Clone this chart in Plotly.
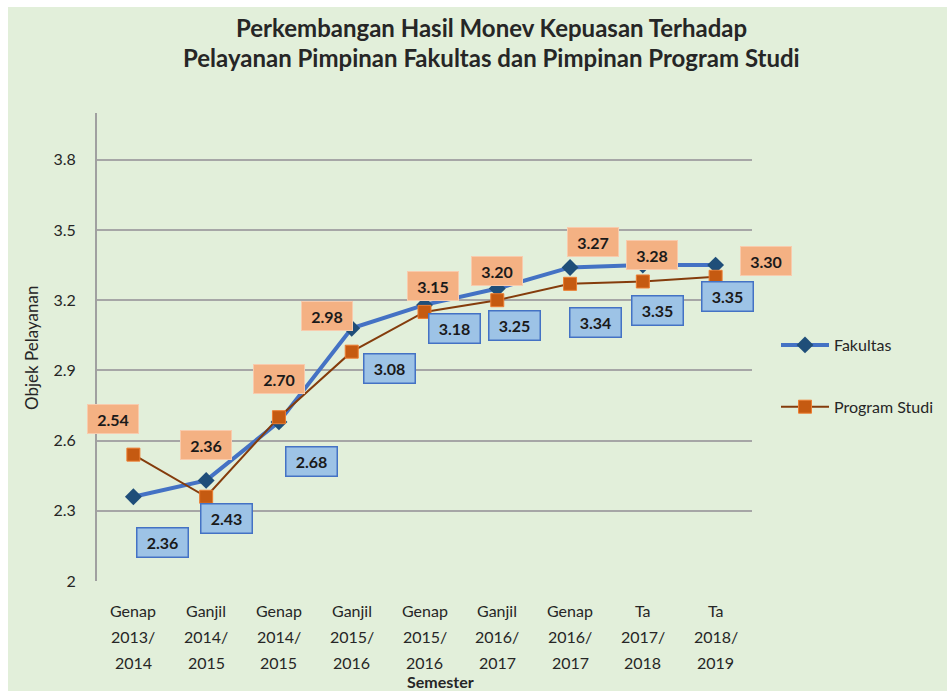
import plotly.graph_objects as go

# ---- data ----
categories = ["Genap<br>2013/<br>2014", "Ganjil<br>2014/<br>2015", "Genap<br>2014/<br>2015",
              "Ganjil<br>2015/<br>2016", "Genap<br>2015/<br>2016", "Ganjil<br>2016/<br>2017",
              "Genap<br>2016/<br>2017", "Ta<br>2017/<br>2018", "Ta<br>2018/<br>2019"]
fakultas = [2.36, 2.43, 2.68, 3.08, 3.18, 3.25, 3.34, 3.35, 3.35]
prodi = [2.54, 2.36, 2.70, 2.98, 3.15, 3.20, 3.27, 3.28, 3.30]
y_ticks = [2, 2.3, 2.6, 2.9, 3.2, 3.5, 3.8]
y_ticktext = ["2", "2.3", "2.6", "2.9", "3.2", "3.5", "3.8"]

# ---- label offsets (pixels, layout only) ----
fak_off = [(29, 46), (20, 38), (33, 40), (38, 40), (30, 24), (17, 37), (25, 55), (15, 45), (12, 31)]
pro_off = [(-20, -36), (0, -52), (0, -38), (-25, -36), (8, -26), (0, -29), (23, -42), (9, -26), (50, -16)]

FONT = "Lato"
W, H = 947, 691
L, R, T, B = 97, 195, 113, 110
pw, ph = W - L - R, H - T - B

fig = go.Figure()
fig.add_trace(go.Scatter(
    x=categories, y=fakultas, name="Fakultas", mode="lines+markers",
    line=dict(color="#4472C4", width=4),
    marker=dict(symbol="diamond", size=13, color="#1F4E79"),
    legendgroup="a"))
fig.add_trace(go.Scatter(
    x=categories, y=prodi, name="Program Studi", mode="lines+markers",
    line=dict(color="#843C0C", width=2),
    marker=dict(symbol="square", size=13, color="#C55A11", line=dict(color="#ED7D31", width=1)),
    legendgroup="b"))

ann = []
for i, (c, v) in enumerate(zip(categories, fakultas)):
    dx, dy = fak_off[i]
    ann.append(dict(x=c, y=v, xref="x", yref="y", text=f"{v:.2f}", showarrow=False,
                    xshift=dx, yshift=-dy, bgcolor="#9DC3E6", bordercolor="#4472C4",
                    borderwidth=1.5, borderpad=2, width=46, height=24,
                    font=dict(family=FONT, size=16, color="#1a1a1a", weight="bold")))
for i, (c, v) in enumerate(zip(categories, prodi)):
    dx, dy = pro_off[i]
    ann.append(dict(x=c, y=v, xref="x", yref="y", text=f"{v:.2f}", showarrow=False,
                    xshift=dx, yshift=-dy, bgcolor="#F4B183", bordercolor="#F8CBAD",
                    borderwidth=1, borderpad=2, width=46, height=24,
                    font=dict(family=FONT, size=16, color="#1a1a1a", weight="bold")))

# x tick labels as multi-line annotations
for c in categories:
    for j, part in enumerate(c.split("<br>")):
        ann.append(dict(x=c, y=0, xref="x", yref="paper", text=part, showarrow=False,
                        yanchor="middle", yshift=-(29 + 26 * j),
                        font=dict(family=FONT, size=16, color="#262626")))

# titles
ann.append(dict(x=(491 - L) / pw, y=1 + (T - 27) / ph, xref="paper", yref="paper",
                text="Perkembangan Hasil Monev Kepuasan Terhadap", showarrow=False,
                yanchor="middle", font=dict(family=FONT, size=24, color="#262626", weight="bold")))
ann.append(dict(x=(491 - L) / pw, y=1 + (T - 58) / ph, xref="paper", yref="paper",
                text="Pelayanan Pimpinan Fakultas dan Pimpinan Program Studi", showarrow=False,
                yanchor="middle", font=dict(family=FONT, size=24, color="#262626", weight="bold")))
ann.append(dict(x=(440 - L) / pw, y=-(681 - (H - B)) / ph, xref="paper", yref="paper",
                text="Semester", showarrow=False, yanchor="middle",
                font=dict(family=FONT, size=16, color="#262626", weight="bold")))
ann.append(dict(x=-(L - 31) / pw, y=(H - B - 348) / ph, xref="paper", yref="paper",
                text="Objek Pelayanan", showarrow=False, textangle=-90,
                xanchor="center", yanchor="middle",
                font=dict(family=FONT, size=17, color="#262626")))

fig.update_layout(
    width=W, height=H,
    margin=dict(l=L, r=R, t=T, b=B, autoexpand=False),
    paper_bgcolor="white",
    plot_bgcolor="rgba(0,0,0,0)",
    annotations=ann,
    showlegend=True,
    legend=dict(x=(776 - L) / pw, y=(H - B - 376) / ph, xanchor="left", yanchor="middle",
                tracegroupgap=38, bgcolor="rgba(0,0,0,0)", itemwidth=48,
                font=dict(family=FONT, size=16, color="#262626")),
    shapes=[dict(type="rect", xref="paper", yref="paper", layer="below",
                 x0=-(L - 8) / pw, x1=(W - L) / pw, y0=-B / ph, y1=1 + (T - 7) / ph,
                 fillcolor="#E2EFDA", line=dict(width=0))],
    xaxis=dict(type="category", range=[-0.5, 8.5], showticklabels=False, showgrid=False,
               zeroline=False, showline=False, fixedrange=True),
    yaxis=dict(range=[2, 4], tickvals=y_ticks, ticktext=y_ticktext, showgrid=True,
               gridcolor="#A6A6A6", gridwidth=1.5, zeroline=False, showline=True,
               linecolor="#A0A0A0", linewidth=2, ticklabelstandoff=16,
               tickfont=dict(family=FONT, size=16, color="#262626")),
)

fig.write_html("out.html")
